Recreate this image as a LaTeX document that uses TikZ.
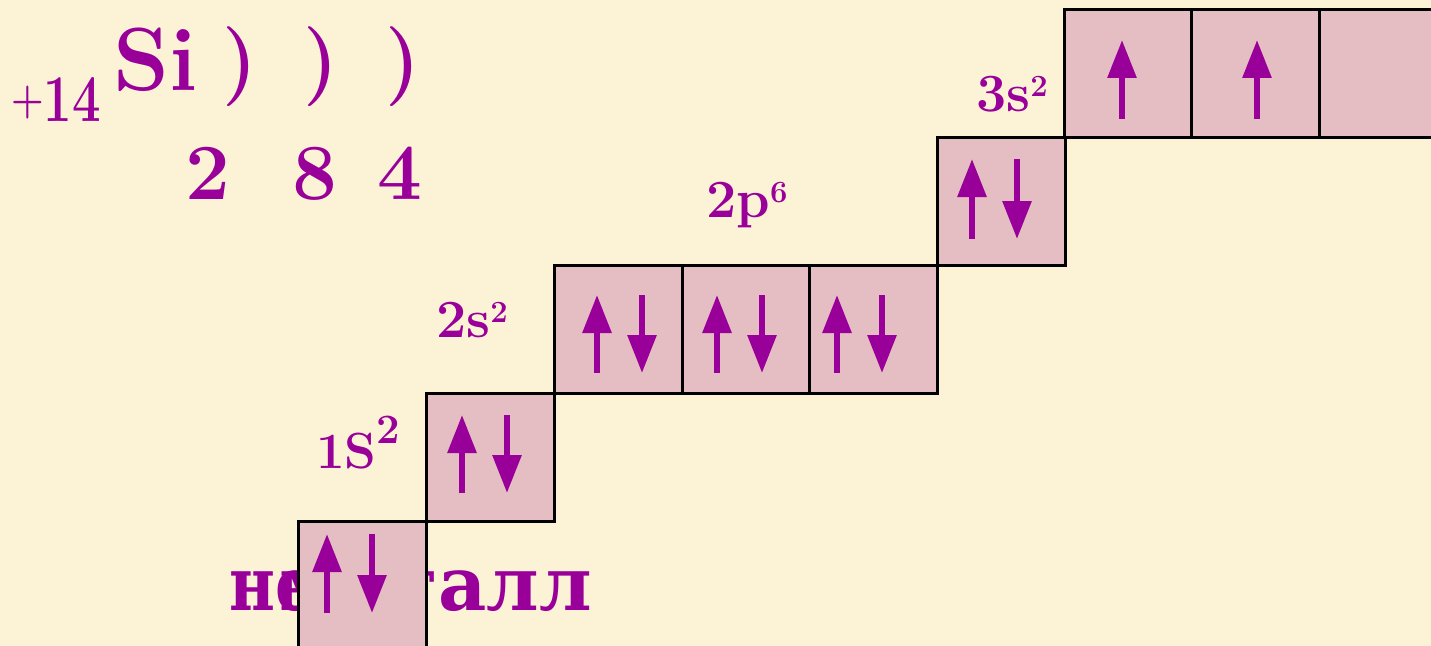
\documentclass[tikz,border=0pt]{standalone}
\usepackage{fontspec}
\usepackage{graphicx}
\newfontfamily\cyrserif{DejaVu Serif}
\usetikzlibrary{arrows.meta}
\definecolor{paper}{RGB}{252,242,214}
\definecolor{cell}{RGB}{228,190,194}
\definecolor{ink}{RGB}{153,0,153}

% a pair of opposite spins inside a cell: #1 cell, #2 x offset of the up arrow,
% #3 top and #4 bottom of the arrows, measured down from the cell's top edge
\newcommand\spinpair[4]{%
  \draw[spin] ([xshift=#2bp,yshift=-#4bp]#1.north west) -- ([xshift=#2bp,yshift=-#3bp]#1.north west);
  \draw[spin] ([xshift=#2bp+45bp,yshift=-#3bp]#1.north west) -- ([xshift=#2bp+45bp,yshift=-#4bp]#1.north west);}
\newcommand\spinup[4]{%
  \draw[spin] ([xshift=#2bp,yshift=-#4bp]#1.north west) -- ([xshift=#2bp,yshift=-#3bp]#1.north west);}

\begin{document}
\begin{tikzpicture}[x=1bp,y=-1bp,
  cellbox/.style={draw=black,line width=2.6bp,fill=cell,minimum width=128bp,
    minimum height=128bp,inner sep=0pt,anchor=north west},
  txt/.style={text=ink,inner sep=0pt,anchor=base west},
  spin/.style={draw=ink,line width=6bp,line cap=butt,-{Triangle[width=28bp,length=38bp]}},
]
\fill[paper] (0,0) rectangle (1431,646);
\useasboundingbox (0,0) rectangle (1431,646);

% word partly hidden behind the lowest cell
\node[txt,font=\cyrserif\bfseries\fontsize{75}{75}\selectfont] (w1) at (229,610)
  {\scalebox{0.84}[1]{не}};
\node[txt,anchor=base east,font=\cyrserif\bfseries\fontsize{75}{75}\selectfont] (w2) at (592,610) {металл};

% orbital cells
\node[cellbox] (b0) at (297,520) {};
\node[cellbox] (b1) at (425,392) {};
\node[cellbox] (b2) at (553,264) {};
\node[cellbox] (b3) at (681,264) {};
\node[cellbox] (b4) at (808,264) {};
\node[cellbox] (b5) at (936,136) {};
\node[cellbox] (b6) at (1063,8) {};
\node[cellbox] (b7) at (1190,8) {};
\node[cellbox] (b8) at (1318,8) {};

% electrons
\spinpair{b0}{30}{14}{93}
\spinpair{b1}{37}{23}{101}
\spinpair{b2}{44}{31}{109}
\spinpair{b3}{36}{31}{109}
\spinpair{b4}{29}{31}{109}
\spinpair{b5}{36}{23}{103}
\spinup{b6}{59}{32}{111}
\spinup{b7}{67}{32}{111}

% sublevel labels
\node[txt,font=\bfseries\fontsize{51}{51}\selectfont] (l1) at (316,468)
  {1S\raisebox{25bp}{\fontsize{42}{42}\selectfont 2}};
\node[txt,font=\bfseries\fontsize{54}{54}\selectfont] (l2) at (436,337)
  {2s\raisebox{15bp}{\fontsize{31}{31}\selectfont 2}};
\node[txt,font=\bfseries\fontsize{54}{54}\selectfont] (l3) at (706,217)
  {2p\raisebox{14bp}{\fontsize{31}{31}\selectfont 6}};
\node[txt,font=\bfseries\fontsize{54}{54}\selectfont] (l4) at (976,112)
  {3s\raisebox{15bp}{\fontsize{31}{31}\selectfont 2}};

% atom scheme
\node[txt,font=\bfseries\fontsize{67}{67}\selectfont] (charge) at (11,122)
  {\raisebox{8bp}{\fontsize{44}{44}\selectfont\scalebox{0.85}[1]{+}}\scalebox{0.76}[1]{14}};
\node[txt,font=\bfseries\fontsize{90}{90}\selectfont] (si) at (113,91) {Si};
\node[txt,font=\bfseries\fontsize{80}{80}\selectfont] (p1) at (222,87) {)};
\node[txt,font=\bfseries\fontsize{80}{80}\selectfont] (p2) at (303,87) {)};
\node[txt,font=\bfseries\fontsize{80}{80}\selectfont] (p3) at (385,87) {)};
\node[txt,font=\bfseries\fontsize{80}{80}\selectfont] (e1) at (185,200) {2};
\node[txt,font=\bfseries\fontsize{80}{80}\selectfont] (e2) at (292,200) {8};
\node[txt,font=\bfseries\fontsize{80}{80}\selectfont] (e3) at (377,200) {4};
\end{tikzpicture}
\end{document}
